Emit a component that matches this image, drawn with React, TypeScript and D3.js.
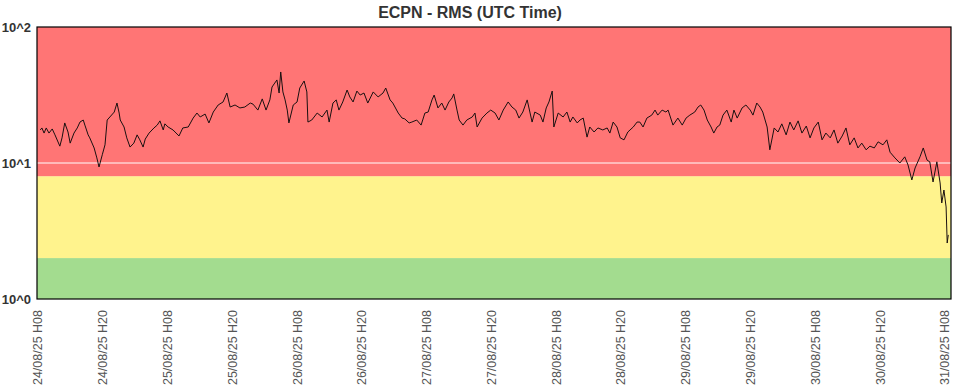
import React, { useMemo } from 'react'
import { scaleLog, scaleTime, line } from 'd3'

const width = 954
const height = 388
const margin = { top: 27, right: 3, bottom: 89, left: 37 }

const title = 'ECPN - RMS (UTC Time)'
const start = new Date(Date.UTC(2025, 7, 24, 8))
const end = new Date(Date.UTC(2025, 7, 31, 8))

// thresholds of the coloured zones
const zoneBreaks = [1, 2, 8, 100]
const zoneColors = ['#a3dc8f', '#fff38d', '#ff7575']

const yTicks = [1, 10, 100]
const yTickLabels = ['10^0', '10^1', '10^2']

// hours since 24/08/25 08:00 UTC
const hours = [
  0.6, 0.9, 1.3, 1.7, 2.2, 2.8, 3.3, 4.2, 4.6, 5.1, 5.7, 6.1, 6.8, 7.4, 7.9, 8.5, 8.8, 9.4, 9.7, 10.5,
  11.0, 11.4, 12.0, 12.5, 12.9, 13.4, 14.2, 14.7, 15.1, 15.3, 16.0, 16.5, 17.1, 17.8, 18.4, 18.9, 19.5, 19.9, 20.6, 21.5,
  22.1, 22.6, 23.2, 23.5, 24.1, 25.0, 26.1, 26.8, 27.8, 28.7, 29.4, 30.0, 30.9, 31.6, 32.4, 33.3, 34.2, 34.9, 35.5, 36.4,
  37.3, 38.2, 39.2, 39.7, 40.6, 41.4, 42.1, 42.8, 43.2, 43.7, 44.1, 44.5, 44.8, 45.2, 45.6, 46.0, 46.3, 47.1, 47.8, 48.3,
  49.1, 49.6, 49.8, 50.5, 51.5, 52.4, 53.3, 53.7, 54.4, 55.0, 55.5, 56.2, 57.0, 57.5, 58.1, 58.8, 59.4, 60.1, 60.8, 61.8,
  62.7, 63.6, 64.1, 64.9, 65.4, 66.4, 67.1, 67.6, 68.4, 68.9, 69.8, 70.6, 71.3, 71.9, 72.6, 73.0, 73.7, 74.4, 75.0, 75.7,
  76.3, 76.6, 77.2, 77.6, 78.3, 79.0, 80.0, 80.5, 80.9, 81.8, 82.7, 83.4, 84.2, 84.9, 85.7, 86.6, 87.3, 88.0, 88.6, 89.3,
  90.1, 91.0, 91.5, 92.5, 93.0, 93.6, 94.1, 94.7, 95.0, 95.8, 96.7, 97.4, 98.0, 98.5, 99.3, 99.8, 100.4, 101.1, 101.6, 102.4,
  103.1, 104.0, 104.8, 105.3, 105.9, 106.6, 107.2, 107.9, 108.6, 109.6, 110.3, 110.8, 111.4, 112.1, 113.0, 113.6, 114.1, 114.9, 115.6, 116.0,
  116.9, 117.8, 118.6, 119.3, 120.0, 120.9, 121.5, 122.0, 122.6, 123.2, 123.9, 124.4, 125.0, 125.5, 126.1, 126.8, 127.6, 128.1, 128.7, 129.6,
  130.3, 131.1, 131.6, 132.3, 132.9, 133.4, 134.2, 134.7, 135.5, 136.2, 136.9, 137.7, 138.4, 139.1, 139.9, 140.6, 141.4, 142.1, 142.8, 143.6,
  144.3, 145.0, 145.8, 146.5, 147.2, 148.0, 148.7, 149.4, 150.2, 150.9, 151.6, 152.4, 153.1, 153.9, 154.6, 155.5, 156.2, 156.8, 157.7, 158.6,
  159.5, 160.1, 160.8, 161.4, 162.3, 162.9, 163.6, 164.1, 164.7, 165.4, 166.0, 166.3, 166.7, 167.1, 167.3, 167.5,
]

const rms = [
  17.5, 18.1, 16.6, 18.1, 16.6, 17.8, 16.1, 13.3, 15.3, 19.7, 16.9, 14.0, 16.6, 18.1, 20.0, 20.7, 19.0, 16.1, 15.3, 12.9,
  10.9, 9.35, 11.5, 13.6, 20.7, 21.8, 23.7, 27.6, 23.3, 20.7, 18.4, 15.3, 13.1, 14.0, 16.1, 14.8, 13.1, 15.0, 16.6, 18.1,
  19.0, 20.4, 17.5, 19.4, 18.4, 17.5, 15.8, 18.1, 18.4, 21.4, 23.3, 21.8, 22.9, 19.7, 23.7, 26.7, 28.1, 32.7, 25.8, 26.7,
  25.4, 25.8, 27.6, 27.1, 24.5, 29.6, 24.5, 29.1, 36.2, 38.7, 40.8, 32.7, 46.7, 33.3, 29.1, 24.5, 19.7, 26.7, 28.1, 35.6,
  40.1, 33.3, 20.0, 20.7, 23.3, 21.8, 24.5, 20.0, 27.6, 29.1, 24.5, 28.1, 34.4, 30.6, 28.1, 33.8, 31.6, 32.7, 27.6, 33.3,
  30.6, 32.7, 35.6, 29.1, 27.6, 23.3, 21.4, 21.1, 19.7, 20.0, 20.7, 19.0, 23.3, 23.7, 29.1, 31.6, 25.4, 27.6, 24.5, 28.1,
  30.1, 32.2, 24.5, 20.7, 19.0, 20.7, 21.8, 23.3, 18.4, 21.4, 23.3, 24.5, 23.3, 20.7, 24.5, 28.1, 25.8, 24.5, 21.4, 23.7,
  29.1, 20.0, 23.7, 22.5, 20.0, 25.4, 28.1, 33.8, 18.4, 23.3, 21.8, 23.7, 20.0, 21.8, 19.7, 20.7, 21.4, 15.5, 18.4, 16.9,
  18.1, 17.5, 18.1, 16.6, 20.0, 18.4, 15.3, 14.8, 16.9, 18.4, 20.0, 20.0, 18.4, 21.4, 22.5, 24.5, 22.5, 24.5, 23.7, 24.5,
  19.0, 21.4, 19.0, 21.4, 22.5, 23.7, 25.8, 26.7, 24.5, 20.7, 18.4, 16.6, 18.4, 19.0, 22.5, 24.5, 20.0, 24.5, 21.4, 25.4,
  26.7, 24.5, 22.5, 27.6, 25.8, 23.7, 18.4, 12.5, 18.1, 16.9, 19.4, 16.1, 20.0, 17.5, 20.4, 16.6, 18.7, 15.3, 18.1, 20.0,
  14.8, 16.6, 15.3, 17.5, 14.0, 15.8, 18.1, 13.6, 15.3, 12.9, 14.0, 12.5, 13.3, 12.9, 14.3, 13.6, 14.8, 12.0, 10.9, 10.0,
  11.1, 9.67, 7.5, 9.19, 11.1, 12.9, 10.5, 10.2, 7.25, 10.2, 7.13, 5.08, 6.33, 4.75, 2.58, 2.96,
]

// x labels every 12 hours
const xTickLabels = [
  '24/08/25 H08', '24/08/25 H20', '25/08/25 H08', '25/08/25 H20', '26/08/25 H08',
  '26/08/25 H20', '27/08/25 H08', '27/08/25 H20', '28/08/25 H08', '28/08/25 H20',
  '29/08/25 H08', '29/08/25 H20', '30/08/25 H08', '30/08/25 H20', '31/08/25 H08',
]

export default function App() {
  const innerW = width - margin.left - margin.right
  const innerH = height - margin.top - margin.bottom

  const xScale = useMemo(() => scaleTime().domain([start, end]).range([0, innerW]), [innerW])
  const yScale = useMemo(() => scaleLog().domain([1, 100]).range([innerH, 0]), [innerH])
  // labels sit a little inside so the last one stays on the page
  const labelScale = useMemo(() => scaleTime().domain([start, end]).range([1, innerW - 6]), [innerW])

  const points = hours.map((h, i) => ({ t: new Date(start.getTime() + h * 3600 * 1000), v: rms[i] }))
  const path = line<{ t: Date; v: number }>()
    .x((d) => xScale(d.t))
    .y((d) => yScale(d.v))(points)

  const tickDates = xTickLabels.map((_, i) => new Date(start.getTime() + i * 12 * 3600 * 1000))

  return (
    <svg width={width} height={height} style={{ position: 'absolute', left: 0, top: 0 }} fontFamily="Arial, 'Liberation Sans', sans-serif">
      <rect width={width} height={height} fill="#fff" />
      <text x={470} y={18} textAnchor="middle" fontSize={16} fontWeight="bold" fill="#333">{title}</text>
      <g transform={`translate(${margin.left},${margin.top})`}>
        {zoneColors.map((c, i) => (
          <rect key={i} x={0} width={innerW} y={yScale(zoneBreaks[i + 1])}
            height={yScale(zoneBreaks[i]) - yScale(zoneBreaks[i + 1])} fill={c} />
        ))}
        <line x1={0} x2={innerW} y1={yScale(10)} y2={yScale(10)} stroke="#fff" strokeWidth={1} />
        <path d={path ?? ''} fill="none" stroke="#1a1010" strokeWidth={1} strokeLinejoin="round" />
        <rect x={0} y={0} width={innerW} height={innerH} fill="none" stroke="#000" strokeWidth={1.2} />
        {yTicks.map((t, i) => (
          <text key={t} x={-6} y={yScale(t)} dy="0.35em" textAnchor="end" fontSize={13} fontWeight="bold" fill="#333">
            {yTickLabels[i]}
          </text>
        ))}
        {tickDates.map((d, i) => (
          <text key={i} transform={`translate(${labelScale(d)},${innerH + 11}) rotate(-90)`} dy="0.35em"
            textAnchor="end" fontSize={12.5} fill="#555">
            {xTickLabels[i]}
          </text>
        ))}
      </g>
    </svg>
  )
}
